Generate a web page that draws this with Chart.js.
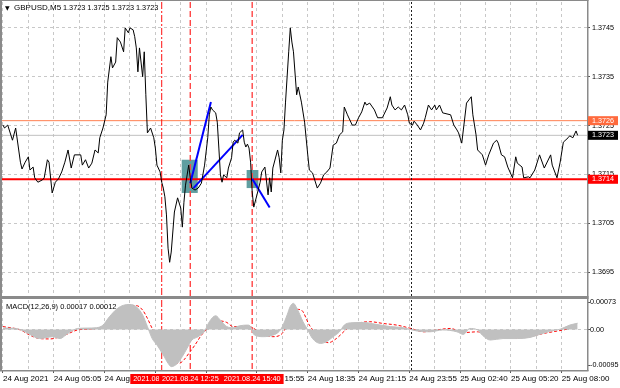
<!DOCTYPE html>
<html>
<head>
<meta charset="utf-8">
<script src="https://cdn.jsdelivr.net/npm/chart.js@4.4.0/dist/chart.umd.min.js"></script>
<style>
  body { margin: 0; background: #fff; }
  #wrap { position: relative; width: 620px; height: 388px; }
  canvas { position: absolute; left: 0; }
  #main { top: 0; }
  #macd { top: 299px; }
</style>
</head>
<body>
<div id="wrap">
  <canvas id="main" width="620" height="299"></canvas>
  <canvas id="macd" width="620" height="89"></canvas>
</div>
<script>
// GBPUSD M5 close prices, x = bar number from the left edge
var barIdx = [0,1,3,6,8,11,12,14,16,17,19,20,22,25,26,28,29,31,33,35,37,39,41,43,45,49,50,52,54,56,58,60,61,63,65,66,68,69,71,72,74,76,77,79,80,82,83,84,85,86,88,89,90,91,93,95,96,97,99,100,101,102,103,104,105,106,108,110,112,113,114,115,117,118,119,121,123,125,127,129,130,131,132,134,135,136,137,138,139,141,142,144,145,146,148,149,151,152,153,154,155,156,157,158,160,162,163,165,167,168,169,170,173,174,175,176,177,178,180,181,182,183,185,186,188,190,192,193,195,198,200,202,204,206,208,210,212,214,215,217,220,222,224,226,228,229,231,234,236,239,242,244,245,247,249,251,253,255,256,258,259,261,263,265,266,268,270,272,273,275,277,282,284,286,287,289,290,292,295,296,298,299,302,304,306,309,311,312,314,316,318,321,323,324,327,328,331,332,335,338,341,345,346,349,351,353,356,357,359,361,362];
var closes = [1.37251,1.37245,1.37251,1.37220,1.37245,1.37175,1.37161,1.37175,1.37186,1.37159,1.37165,1.37143,1.37134,1.37139,1.37143,1.37180,1.37175,1.37112,1.37134,1.37141,1.37155,1.37175,1.37200,1.37163,1.37190,1.37190,1.37169,1.37180,1.37163,1.37173,1.37200,1.37194,1.37225,1.37245,1.37272,1.37339,1.37391,1.37368,1.37380,1.37430,1.37421,1.37401,1.37450,1.37440,1.37450,1.37446,1.37432,1.37409,1.37360,1.37409,1.37350,1.37401,1.37313,1.37235,1.37245,1.37225,1.37204,1.37169,1.37155,1.37134,1.37122,1.37104,1.37067,1.36999,1.36970,1.36991,1.37073,1.37102,1.37081,1.37042,1.37093,1.37128,1.37169,1.37143,1.37122,1.37118,1.37122,1.37132,1.37169,1.37225,1.37272,1.37288,1.37282,1.37276,1.37257,1.37204,1.37149,1.37134,1.37149,1.37143,1.37163,1.37184,1.37216,1.37220,1.37214,1.37235,1.37241,1.37216,1.37206,1.37212,1.37204,1.37175,1.37114,1.37083,1.37108,1.37134,1.37155,1.37165,1.37108,1.37143,1.37114,1.37163,1.37200,1.37184,1.37153,1.37220,1.37241,1.37298,1.37401,1.37450,1.37421,1.37401,1.37313,1.37329,1.37298,1.37257,1.37190,1.37159,1.37153,1.37122,1.37132,1.37149,1.37155,1.37163,1.37210,1.37214,1.37231,1.37237,1.37288,1.37272,1.37251,1.37251,1.37266,1.37278,1.37298,1.37292,1.37296,1.37282,1.37266,1.37266,1.37286,1.37309,1.37292,1.37282,1.37288,1.37282,1.37292,1.37272,1.37255,1.37251,1.37259,1.37251,1.37241,1.37255,1.37266,1.37292,1.37282,1.37292,1.37282,1.37292,1.37276,1.37272,1.37251,1.37241,1.37235,1.37214,1.37241,1.37296,1.37309,1.37272,1.37231,1.37200,1.37190,1.37169,1.37190,1.37214,1.37220,1.37214,1.37190,1.37186,1.37165,1.37143,1.37186,1.37173,1.37165,1.37143,1.37145,1.37143,1.37159,1.37190,1.37163,1.37190,1.37169,1.37143,1.37175,1.37216,1.37225,1.37229,1.37225,1.37239,1.37230];

// MACD(12,26,9): main line (histogram) and signal line
var histIdx = [0,8,12,17,23,28,31,36,40,44,47,53,59,63,67,72,76,80,84,88,91,94,97,101,104,106,110,113,116,119,123,127,130,134,137,141,145,149,154,156,158,164,170,174,176,179,181,183,185,187,189,192,195,200,204,208,212,215,219,227,235,244,252,261,269,277,286,290,294,299,302,307,315,324,332,338,345,351,357,362];
var macdHist = [0.00004,0.00003,-0.00002,-0.00013,-0.00024,-0.00021,-0.00019,-0.00024,-0.00013,-0.00002,0.00003,0.00004,0.00005,0.00012,0.00034,0.00056,0.00065,0.00067,0.00061,0.00039,0.00008,-0.00024,-0.00041,-0.00068,-0.00090,-0.00099,-0.00090,-0.00072,-0.00050,-0.00028,-0.00019,-0.00004,0.00021,0.00037,0.00025,0.00008,0.00005,0.00010,0.00012,0.00008,-0.00013,-0.00019,-0.00015,-0.00005,0.00008,0.00039,0.00062,0.00070,0.00058,0.00040,0.00021,-0.00001,-0.00024,-0.00037,-0.00032,-0.00019,-0.00006,0.00012,0.00018,0.00019,0.00014,0.00008,0.00005,-0.00004,-0.00006,-0.00001,-0.00006,-0.00013,0.00003,-0.00001,-0.00015,-0.00028,-0.00024,-0.00024,-0.00021,-0.00013,-0.00004,0.00001,0.00012,0.00017];
var sigIdx = [0,11,17,23,30,36,40,47,53,59,63,67,72,76,80,84,88,91,94,97,101,104,108,111,114,117,121,125,129,133,137,141,145,149,154,158,164,170,176,179,182,185,188,193,200,205,210,217,223,231,240,248,257,265,273,282,290,299,307,315,324,332,341,349,357,362];
var macdSignal = [0.00008,-0.00001,-0.00015,-0.00024,-0.00025,-0.00019,-0.00013,-0.00001,0.00001,0.00003,0.00008,0.00021,0.00043,0.00056,0.00064,0.00064,0.00052,0.00030,0.00003,-0.00019,-0.00055,-0.00072,-0.00086,-0.00090,-0.00081,-0.00064,-0.00041,-0.00015,0.00003,0.00016,0.00023,0.00019,0.00008,0.00008,0.00010,0.00003,-0.00013,-0.00019,-0.00010,0.00012,0.00034,0.00054,0.00052,0.00012,-0.00024,-0.00035,-0.00024,0.00003,0.00016,0.00021,0.00016,0.00012,0.00003,-0.00006,-0.00001,0.00003,-0.00008,-0.00006,-0.00024,-0.00019,-0.00022,-0.00019,-0.00010,-0.00004,0.00003,0.00012];

// axes
var timeTickIdx = [0,32,64,96,128,160,192,224,256,288,320,352];
var timeTickLabels = ['24 Aug 2021','24 Aug 05:05','24 Aug 07:45','24 Aug 10:25','24 Aug 13:05','24 Aug 15:55','24 Aug 18:35','24 Aug 21:15','24 Aug 23:55','25 Aug 02:40','25 Aug 05:20','25 Aug 08:00'];
var gridIdx = [0,16,32,48,64,80,96,112,128,144,160,176,192,208,224,240,256,272,288,304,320,336,352];
var priceTicks = [1.3695,1.3705,1.3715,1.3725,1.3735,1.3745];
var macdTicks = [0.00073,0,-0.00095];

// objects drawn on the chart
var vlineIdx = [100,118,157];
var vlineLabels = ['2021.08.24 10:55','2021.08.24 12:25','2021.08.24 15:40'];
var daySepIdx = [257];
var levelValues = [1.3726,1.3723,1.3714];
var trendLines = [[118,1.37132,131,1.37298],[120,1.37122,151,1.37231],[157,1.37141,168,1.37082]];
var boxes = [[112.6,122.7,1.37180,1.37112],[153.5,160.9,1.37159,1.37122]];
var lastClose = 1.3723, lastHigh = 1.3725;
var macdNow = 0.00017, signalNow = 0.00012;

var FONT = "'Liberation Sans', Arial, sans-serif";
Chart.defaults.font.family = FONT;
Chart.defaults.font.size = 8;
Chart.defaults.color = '#000';

var levelStyle = [
    {line: '#ff7f50', box: '#ff6a3d', width: 1},
    {line: '#c0c0c0', box: '#000000', width: 1},
    {line: '#ff0000', box: '#ff0000', width: 2}
];
var GRID = '#c8c8c8';
var FRAME = '#8a8a8a';
var NUM_FONT = '7.2px ' + FONT;

function drawVlines(chart) {
    var ctx = chart.ctx, a = chart.chartArea, x = chart.scales.x;
    ctx.save();
    vlineIdx.forEach(function(v, k) {
        var px = x.getPixelForValue(v);
        ctx.beginPath();
        ctx.strokeStyle = k == 0 ? '#ff1010' : '#ff4545';
        ctx.lineWidth = k == 0 ? 1 : 1.4;
        ctx.setLineDash(k == 0 ? [7, 2, 2, 2] : [6, 3]);
        ctx.moveTo(px, a.top);
        ctx.lineTo(px, a.bottom);
        ctx.stroke();
    });
    daySepIdx.forEach(function(v) {
        var px = Math.round(x.getPixelForValue(v)) + 0.5;
        ctx.beginPath();
        ctx.strokeStyle = '#202020';
        ctx.lineWidth = 1;
        ctx.setLineDash([2, 2]);
        ctx.moveTo(px, a.top);
        ctx.lineTo(px, a.bottom);
        ctx.stroke();
    });
    ctx.restore();
}

function drawFrame(chart, bottomBand) {
    var ctx = chart.ctx, a = chart.chartArea;
    ctx.save();
    ctx.fillStyle = FRAME;
    ctx.fillRect(0, 0, 2, bottomBand ? chart.height : a.bottom + 1);
    ctx.fillRect(a.right, 0, 1.5, bottomBand ? chart.height : a.bottom + 1);
    if (bottomBand) {
        ctx.fillRect(0, 0, a.right + 1.5, 1);
        ctx.fillRect(0, a.bottom, a.right + 1.5, chart.height - a.bottom);
    } else {
        ctx.fillRect(0, a.bottom, a.right + 1.5, 1.5);
    }
    ctx.restore();
}

var mainPlugin = {
    id: 'mainObjects',
    beforeDatasetsDraw: function(chart) {
        var ctx = chart.ctx, a = chart.chartArea, x = chart.scales.x, y = chart.scales.y;
        ctx.save();
        ctx.fillStyle = '#5f9ea0';
        boxes.forEach(function(b) {
            var x1 = x.getPixelForValue(b[0]), x2 = x.getPixelForValue(b[1]);
            var y1 = y.getPixelForValue(b[2]), y2 = y.getPixelForValue(b[3]);
            ctx.fillRect(x1, y1, x2 - x1, y2 - y1);
        });
        levelValues.forEach(function(v, k) {
            var py = y.getPixelForValue(v);
            ctx.beginPath();
            ctx.strokeStyle = levelStyle[k].line;
            ctx.lineWidth = levelStyle[k].width;
            ctx.moveTo(a.left, py);
            ctx.lineTo(a.right, py);
            ctx.stroke();
        });
        ctx.restore();
        drawVlines(chart);
    },
    afterDraw: function(chart) {
        var ctx = chart.ctx, a = chart.chartArea, y = chart.scales.y;
        drawFrame(chart, true);
        ctx.save();
        ctx.font = NUM_FONT;
        ctx.textBaseline = 'middle';
        levelValues.forEach(function(v, k) {
            var py = y.getPixelForValue(v);
            ctx.fillStyle = levelStyle[k].box;
            ctx.fillRect(a.right + 1, py - 4.5, 30, 9);
            ctx.fillStyle = '#fff';
            ctx.fillText(v.toFixed(4), a.right + 5, py);
        });
        ctx.fillStyle = '#000';
        ctx.font = '6px DejaVu Sans';
        ctx.fillText('\u25BC', 5, 8);
        ctx.font = '8px ' + FONT;
        ctx.fillText('GBPUSD,M5', 14, 8);
        ctx.font = '7.3px ' + FONT;
        ctx.fillText([lastClose, lastHigh, lastClose, lastClose].map(function(p) { return p.toFixed(4); }).join(' '), 63, 8);
        ctx.restore();
    }
};

var macdPlugin = {
    id: 'macdObjects',
    beforeDatasetsDraw: function(chart) {
        drawVlines(chart);
    },
    afterDraw: function(chart) {
        var ctx = chart.ctx, a = chart.chartArea, x = chart.scales.x;
        drawFrame(chart, false);
        ctx.save();
        ctx.font = '7.3px ' + FONT;
        ctx.textBaseline = 'middle';
        vlineIdx.forEach(function(v, k) {
            var px = x.getPixelForValue(v);
            var w = ctx.measureText(vlineLabels[k]).width;
            ctx.fillStyle = '#ff0000';
            ctx.fillRect(px - w / 2 - 3, a.bottom + 4, w + 6, 10);
            ctx.fillStyle = '#fff';
            ctx.textAlign = 'center';
            ctx.fillText(vlineLabels[k], px, a.bottom + 9);
        });
        ctx.textAlign = 'left';
        ctx.fillStyle = '#000';
        ctx.font = '7.5px ' + FONT;
        ctx.fillText('MACD(12,26,9) ' + macdNow.toFixed(5) + ' ' + signalNow.toFixed(5), 6, 8);
        ctx.restore();
    }
};

var xMin = -0.6, xMax = 367.9;

new Chart(document.getElementById('main'), {
    type: 'line',
    data: {
        datasets: [{
            data: barIdx.map(function(v, k) { return {x: v, y: closes[k]}; }),
            borderColor: '#000',
            borderWidth: 1,
            pointRadius: 0,
            tension: 0
        }].concat(trendLines.map(function(t) {
            return {
                data: [{x: t[0], y: t[1]}, {x: t[2], y: t[3]}],
                borderColor: '#0000ff',
                borderWidth: 2,
                pointRadius: 0
            };
        }))
    },
    options: {
        responsive: false,
        animation: false,
        layout: {padding: {left: 2, top: 2, right: 0, bottom: 3}},
        plugins: {legend: {display: false}, tooltip: {enabled: false}},
        scales: {
            x: {
                type: 'linear', min: xMin, max: xMax,
                afterBuildTicks: function(s) { s.ticks = gridIdx.map(function(v) { return {value: v}; }); },
                ticks: {display: false},
                grid: {color: GRID, drawTicks: false},
                border: {display: false, dash: [3, 3]},
                afterFit: function(s) { s.height = 0; s.paddingLeft = 0; s.paddingRight = 0; }
            },
            y: {
                position: 'right', min: 1.36901, max: 1.37503,
                afterBuildTicks: function(s) { s.ticks = priceTicks.map(function(v) { return {value: v}; }); },
                ticks: {padding: 2, font: {size: 7.2}, callback: function(v) { return v.toFixed(4); }},
                grid: {color: GRID, tickLength: 3, tickColor: '#555'},
                border: {display: false, dash: [3, 3]},
                afterFit: function(s) { s.width = 33; s.paddingTop = 0; s.paddingBottom = 0; }
            }
        }
    },
    plugins: [mainPlugin]
});

new Chart(document.getElementById('macd'), {
    type: 'line',
    data: {
        datasets: [{
            data: histIdx.map(function(v, k) { return {x: v, y: macdHist[k]}; }),
            borderColor: '#c0c0c0',
            backgroundColor: '#c0c0c0',
            borderWidth: 1,
            fill: 'origin',
            pointRadius: 0,
            cubicInterpolationMode: 'monotone'
        }, {
            data: sigIdx.map(function(v, k) { return {x: v, y: macdSignal[k]}; }),
            borderColor: '#ff0000',
            borderWidth: 1,
            borderDash: [3, 2],
            pointRadius: 0,
            cubicInterpolationMode: 'monotone'
        }]
    },
    options: {
        responsive: false,
        animation: false,
        layout: {padding: {left: 2, top: 1, right: 0, bottom: 0}},
        plugins: {legend: {display: false}, tooltip: {enabled: false}},
        scales: {
            x: {
                type: 'linear', min: xMin, max: xMax,
                afterBuildTicks: function(s) { s.ticks = gridIdx.map(function(v) { return {value: v}; }); },
                ticks: {
                    autoSkip: false, maxRotation: 0, align: 'start', padding: 1,
                    callback: function(v) {
                        var k = timeTickIdx.indexOf(v);
                        return k >= 0 ? timeTickLabels[k] : '';
                    }
                },
                grid: {
                    color: GRID, tickLength: 3,
                    tickColor: function(c) { return c.tick && timeTickIdx.indexOf(c.tick.value) >= 0 ? '#555' : 'rgba(0,0,0,0)'; }
                },
                border: {display: false, dash: [3, 3]},
                afterFit: function(s) { s.height = 18; s.paddingLeft = 0; s.paddingRight = 0; }
            },
            y: {
                position: 'right', min: -0.00108, max: 0.00079,
                afterBuildTicks: function(s) { s.ticks = macdTicks.map(function(v) { return {value: v}; }); },
                ticks: {padding: 0, font: {size: 7.2}, callback: function(v) { return v == 0 ? '0.00' : v.toFixed(5); }},
                grid: {
                    color: function(c) { return c.tick && c.tick.value == 0 ? GRID : 'rgba(0,0,0,0)'; },
                    tickLength: 3, tickColor: '#555'
                },
                border: {display: false, dash: [3, 3]},
                afterFit: function(s) { s.width = 33; s.paddingTop = 0; s.paddingBottom = 0; }
            }
        }
    },
    plugins: [macdPlugin]
});
</script>
</body>
</html>
